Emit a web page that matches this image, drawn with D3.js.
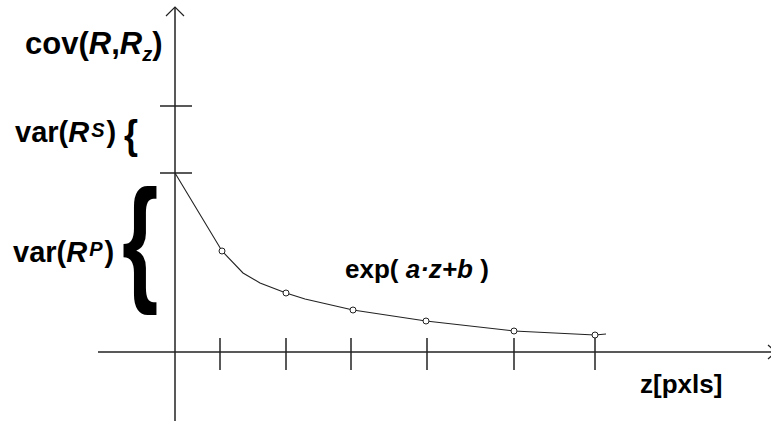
<!DOCTYPE html>
<html>
<head>
<meta charset="utf-8">
<script src="https://cdn.jsdelivr.net/npm/d3@7"></script>
<style>
  body { margin: 0; background: #fff; }
  text { font-family: "Liberation Sans", Arial, sans-serif; font-weight: bold; fill: #000; }
</style>
</head>
<body>
<div id="chart"></div>
<script>
// z position (pixels from origin) and covariance
const zValues = [0, 47, 68, 85, 111, 130, 178, 251, 339, 420, 431];
const covValues = [179, 101, 79, 69, 59, 53, 42, 31, 21, 17, 18];
const markerIndex = [1, 4, 6, 7, 8, 9];
const xTickValues = [45, 111, 176, 252, 339, 420];
const yTickValues = [179, 246];

const width = 771, height = 421;

const svg = d3.select("#chart").append("svg")
  .attr("width", width)
  .attr("height", height);

const x = d3.scaleLinear().domain([0, 600]).range([175, 775]);
const y = d3.scaleLinear().domain([0, 350]).range([352, 2]);

const axisColor = "#222";

// x axis
svg.append("line")
  .attr("x1", 98).attr("x2", 776)
  .attr("y1", y(0)).attr("y2", y(0))
  .attr("stroke", axisColor).attr("stroke-width", 1.5);
svg.append("path")
  .attr("d", `M${768},${y(0) - 7}L${776},${y(0)}L${768},${y(0) + 7}`)
  .attr("fill", "none").attr("stroke", axisColor).attr("stroke-width", 1.2);

// y axis
svg.append("line")
  .attr("x1", x(0)).attr("x2", x(0))
  .attr("y1", 7).attr("y2", 421)
  .attr("stroke", axisColor).attr("stroke-width", 1.5);
svg.append("path")
  .attr("d", `M${x(0) - 9},${16}L${x(0)},${7}L${x(0) + 9},${16}`)
  .attr("fill", "none").attr("stroke", axisColor).attr("stroke-width", 1.2);

// ticks
svg.selectAll(".xtick")
  .data(xTickValues)
  .join("line")
  .attr("class", "xtick")
  .attr("x1", d => x(d)).attr("x2", d => x(d))
  .attr("y1", y(0) - 14).attr("y2", y(0) + 18)
  .attr("stroke", axisColor).attr("stroke-width", 1.5);

svg.selectAll(".ytick")
  .data(yTickValues)
  .join("line")
  .attr("class", "ytick")
  .attr("x1", x(0) - 15).attr("x2", x(0) + 17)
  .attr("y1", d => y(d)).attr("y2", d => y(d))
  .attr("stroke", axisColor).attr("stroke-width", 1.5);

// curve
const line = d3.line()
  .x(d => x(d[0]))
  .y(d => y(d[1]))
  .curve(d3.curveLinear);

svg.append("path")
  .datum(zValues.map((z, i) => [z, covValues[i]]))
  .attr("d", line)
  .attr("fill", "none")
  .attr("stroke", "#222")
  .attr("stroke-width", 1.1);

svg.selectAll(".pt")
  .data(markerIndex)
  .join("circle")
  .attr("class", "pt")
  .attr("cx", i => x(zValues[i]))
  .attr("cy", i => y(covValues[i]))
  .attr("r", 3)
  .attr("fill", "#fff")
  .attr("stroke", "#222")
  .attr("stroke-width", 1);

// labels
const cov = svg.append("text").attr("x", 25).attr("y", 54).style("font-size", "31px");
cov.append("tspan").text("cov(");
cov.append("tspan").style("font-style", "italic").text("R");
cov.append("tspan").text(",");
cov.append("tspan").style("font-style", "italic").text("R");
cov.append("tspan").style("font-style", "italic").style("font-size", "20px").attr("dy", 7).text("z");
cov.append("tspan").attr("dy", -7).text(")");

const varS = svg.append("text").attr("x", 15).attr("y", 142).style("font-size", "29px");
varS.append("tspan").text("var(");
varS.append("tspan").style("font-style", "italic").text("R");
varS.append("tspan").style("font-style", "italic").style("font-size", "20px").attr("dx", 2).attr("dy", -5).text("S");
varS.append("tspan").attr("dx", 2).attr("dy", 5).text(")");

const varP = svg.append("text").attr("x", 13).attr("y", 262).style("font-size", "29px");
varP.append("tspan").text("var(");
varP.append("tspan").style("font-style", "italic").text("R");
varP.append("tspan").style("font-style", "italic").style("font-size", "20px").attr("dx", 2).attr("dy", -6).text("P");
varP.append("tspan").attr("dx", 2).attr("dy", 6).text(")");

// braces
svg.append("text")
  .attr("transform", "translate(124,149) scale(1,1.15)")
  .style("font-size", "36px")
  .text("{");
svg.append("text")
  .attr("transform", "translate(122,286) scale(0.72,1.05)")
  .style("font-size", "130px")
  .text("{");

const ex = svg.append("text").attr("x", 345).attr("y", 278).style("font-size", "26px");
ex.append("tspan").text("exp( ");
ex.append("tspan").style("font-style", "italic").text("a");
ex.append("tspan").style("font-style", "italic").text("·");
ex.append("tspan").style("font-style", "italic").text("z+b");
ex.append("tspan").text(" )");

svg.append("text").attr("x", 640).attr("y", 393).style("font-size", "26px").text("z[pxls]");
</script>
</body>
</html>
